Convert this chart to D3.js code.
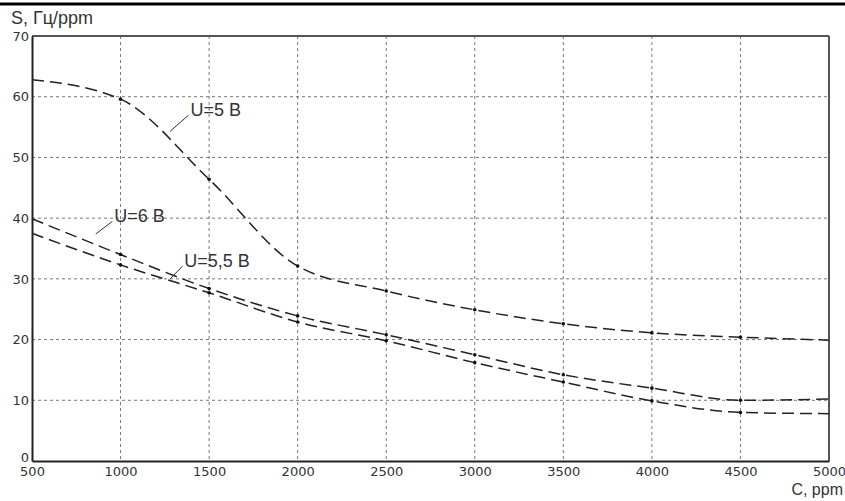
<!DOCTYPE html>
<html><head><meta charset="utf-8">
<script src="https://cdn.jsdelivr.net/npm/d3@7/dist/d3.min.js"></script>
<style>html,body{margin:0;padding:0;background:#fff;}svg{display:block;}</style>
</head><body><div id="chart"></div>
<script>
const concentrations = [500, 1000, 1500, 2000, 2500, 3000, 3500, 4000, 4500, 5000];
const sU5   = [62.8, 59.6, 46.4, 32.1, 28.0, 24.9, 22.6, 21.1, 20.4, 19.9];
const sU6   = [39.9, 34.0, 28.4, 23.9, 20.8, 17.5, 14.2, 12.0, 10.0, 10.2];
const sU55  = [37.5, 32.3, 27.7, 22.9, 19.8, 16.2, 13.0, 9.9, 8.0, 7.8];
const seriesNames = ["U=5 B", "U=6 B", "U=5,5 B"];
const xTicks = [500, 1000, 1500, 2000, 2500, 3000, 3500, 4000, 4500, 5000];
const yTicks = [0, 10, 20, 30, 40, 50, 60, 70];
const yTitle = "S, Гц/ppm";
const xTitle = "C, ppm";
// label annotations: [text anchor C, text baseline S, leader start C, leader start S]
const labelPos = [[1395, 56.8, 1280, 54.3], [965, 39.3, 860, 37.4], [1360, 31.9, 1280, 30.0]];

const W = 845, H = 501;
const m = {left: 32, right: 16, top: 36, bottom: 40};
const svg = d3.select("#chart").append("svg").attr("width", W).attr("height", H);
const x = d3.scaleLinear().domain([500, 5000]).range([m.left, W - m.right]);
const y = d3.scaleLinear().domain([0, 70]).range([H - m.bottom, m.top]);

// top rule
svg.append("line").attr("x1", 0).attr("x2", W).attr("y1", 4).attr("y2", 4)
  .attr("stroke", "#000").attr("stroke-width", 3);

// grid
const g = svg.append("g");
g.selectAll(".vg").data(xTicks.slice(1, -1)).join("line")
  .attr("x1", d => x(d)).attr("x2", d => x(d)).attr("y1", y(70)).attr("y2", y(0))
  .attr("stroke", "#777").attr("stroke-width", 1).attr("stroke-dasharray", "3,3");
g.selectAll(".hg").data(yTicks.slice(1, -1)).join("line")
  .attr("y1", d => y(d)).attr("y2", d => y(d)).attr("x1", x(500)).attr("x2", x(5000))
  .attr("stroke", "#777").attr("stroke-width", 1).attr("stroke-dasharray", "3,3");

// frame
svg.append("line").attr("x1", x(500)).attr("x2", x(5000)).attr("y1", y(70)).attr("y2", y(70)).attr("stroke", "#555").attr("stroke-width", 2);
svg.append("line").attr("x1", x(5000)).attr("x2", x(5000)).attr("y1", y(70)).attr("y2", y(0)).attr("stroke", "#555").attr("stroke-width", 2);

// axes
const xAxis = svg.append("g").attr("transform", `translate(0,${y(0)})`)
  .call(d3.axisBottom(x).tickValues(xTicks).tickSize(0).tickPadding(6).tickFormat(d3.format("d")));
const yAxis = svg.append("g").attr("transform", `translate(${x(500)},0)`)
  .call(d3.axisLeft(y).tickValues(yTicks).tickSize(0).tickPadding(3));
[xAxis, yAxis].forEach(a => {
  a.select(".domain").attr("stroke", "#222").attr("stroke-width", 2);
  a.selectAll("text").attr("font-family", "'DejaVu Sans', Verdana, sans-serif").attr("font-size", 13).attr("fill", "#333");
});
yAxis.selectAll(".tick text").filter(d => d === 0).attr("dy", "0.02em");

// curves
const allSeries = [sU5, sU6, sU55];
const line = d3.line().x((d, i) => x(concentrations[i])).y(d => y(d)).curve(d3.curveMonotoneX);
allSeries.forEach(s => {
  svg.append("path").attr("d", line(s)).attr("fill", "none").attr("stroke", "#222")
    .attr("stroke-width", 1.5).attr("stroke-dasharray", "12,6");
  svg.selectAll(null).data(s.slice(1, -1)).join("circle")
    .attr("cx", (d, i) => x(concentrations[i + 1])).attr("cy", d => y(d)).attr("r", 1.8).attr("fill", "#111");
});

// labels with leaders
labelPos.forEach((p, i) => {
  svg.append("line").attr("x1", x(p[2])).attr("y1", y(p[3])).attr("x2", x(p[0]) - 2).attr("y2", y(p[1]) - 1)
    .attr("stroke", "#333").attr("stroke-width", 1);
  svg.append("text").attr("x", x(p[0])).attr("y", y(p[1])).text(seriesNames[i])
    .attr("font-family", "'Liberation Sans', Arial, sans-serif").attr("font-size", 18).attr("fill", "#333");
});

// titles
svg.append("text").attr("x", 11).attr("y", 24).text(yTitle)
  .attr("font-family", "'Liberation Sans', Arial, sans-serif").attr("font-size", 18).attr("fill", "#333");
svg.append("text").attr("x", W - 2).attr("y", 495).attr("text-anchor", "end").text(xTitle)
  .attr("font-family", "'Liberation Sans', Arial, sans-serif").attr("font-size", 16).attr("fill", "#333");
</script></body></html>
